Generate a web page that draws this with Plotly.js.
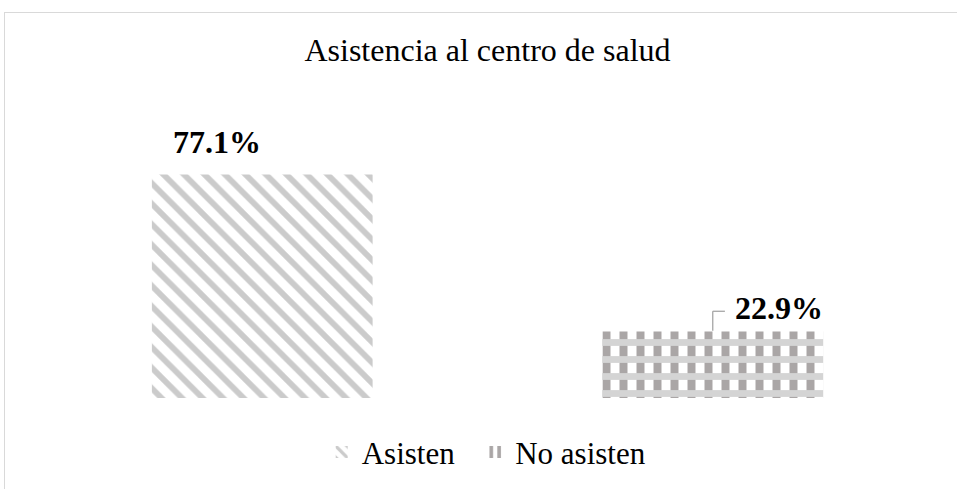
<!DOCTYPE html>
<html>
<head>
<meta charset="utf-8">
<script src="https://cdn.plot.ly/plotly-3.0.1.min.js"></script>
<style>
  html, body { margin: 0; padding: 0; background: #fff; }
  #wrap { position: relative; width: 957px; height: 489px; overflow: hidden; }
  #frame { position: absolute; left: 4px; top: 12px; width: 1200px; height: 1200px;
           border-left: 1px solid #d9d9d9; border-top: 1px solid #d9d9d9; pointer-events: none; }
  #chart { position: absolute; left: 0; top: 0; width: 957px; height: 489px; }
</style>
</head>
<body>
<div id="wrap">
  <div id="chart"></div>
  <div id="frame"></div>
</div>
<script>
const categories = ['Asisten', 'No asisten'];
const values = [77.1, 22.9];
const labels = ['77.1%', '22.9%'];
const chartTitle = 'Asistencia al centro de salud';

const FONT = '"Liberation Serif", "Times New Roman", serif';
const PAD = '\u00a0\u00a0';

const traces = [
  {
    type: 'bar', name: categories[0] + PAD, x: [categories[0]], y: [values[0]],
    width: 0.49, hoverinfo: 'skip',
    marker: { color: '#ffffff', line: { width: 0 },
      pattern: { shape: '\\', fgcolor: '#cbcbcb', bgcolor: '#ffffff', size: 14.5, solidity: 0.4, fillmode: 'replace' } }
  },
  {
    type: 'bar', name: categories[1], x: [categories[1]], y: [values[1]],
    width: 0.49, hoverinfo: 'skip',
    marker: { color: '#ffffff', line: { width: 0 },
      pattern: { shape: '|', fgcolor: '#aaa6a6', bgcolor: '#ffffff', size: 17, solidity: 0.47, fillmode: 'replace' } }
  },
  {
    type: 'bar', name: categories[1], x: [categories[1]], y: [values[1]],
    width: 0.49, hoverinfo: 'skip', showlegend: false,
    marker: { color: 'rgba(0,0,0,0)', line: { width: 0 },
      pattern: { shape: '-', fgcolor: '#d4d4d4', bgcolor: 'rgba(0,0,0,0)', size: 17, solidity: 0.4, fillmode: 'replace' } }
  }
];

const layout = {
  width: 957, height: 489,
  margin: { l: 37, r: 19, t: 130, b: 91, autoexpand: false },
  paper_bgcolor: 'rgba(0,0,0,0)', plot_bgcolor: 'rgba(0,0,0,0)',
  barmode: 'overlay',
  font: { family: FONT, color: '#000000', size: 31 },
  title: { text: chartTitle, font: { family: FONT, size: 32, color: '#000000' },
           x: 0.5, xanchor: 'center', y: 0.898, yanchor: 'middle', xref: 'paper', yref: 'container' },
  xaxis: { type: 'category', categoryarray: categories, showticklabels: false, showgrid: false,
           zeroline: false, showline: false, ticks: '', fixedrange: true },
  yaxis: { range: [0, 92.4], showticklabels: false, showgrid: false, zeroline: false,
           showline: false, ticks: '', fixedrange: true },
  showlegend: true,
  legend: { orientation: 'h', x: 0.316, xanchor: 'left', y: -0.203, yanchor: 'middle',
            font: { family: FONT, size: 31, color: '#000000' }, itemwidth: 30,
            bgcolor: 'rgba(0,0,0,0)', traceorder: 'normal' },
  annotations: [
    { x: categories[0], y: values[0], xref: 'x', yref: 'y', text: '<b>' + labels[0] + '</b>',
      showarrow: false, xanchor: 'center', yanchor: 'middle', xshift: -45, yshift: 32,
      font: { family: FONT, size: 32, color: '#000000' } },
    { x: categories[1], y: values[1], xref: 'x', yref: 'y', text: '<b>' + labels[1] + '</b>',
      showarrow: false, xanchor: 'left', yanchor: 'middle', xshift: 20, yshift: 24,
      font: { family: FONT, size: 32, color: '#000000' } }
  ],
  shapes: [
    { type: 'line', xref: 'x', yref: 'y', x0: 1, x1: 1, y0: values[1] + 0.3, y1: values[1] + 7.0,
      line: { color: '#a6a6a6', width: 1.3 } },
    { type: 'line', xref: 'x', yref: 'y', x0: 1, x1: 1.027, y0: values[1] + 7.0, y1: values[1] + 7.0,
      line: { color: '#a6a6a6', width: 1.3 } }
  ]
};

Plotly.newPlot('chart', traces, layout, { displayModeBar: false, staticPlot: true });
</script>
</body>
</html>
